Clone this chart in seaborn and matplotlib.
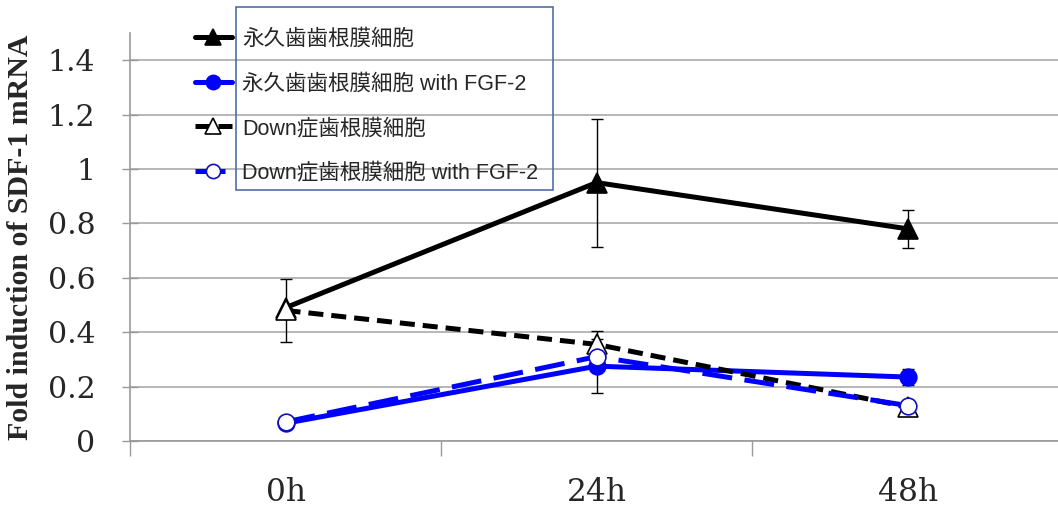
import matplotlib.pyplot as plt
from matplotlib.patches import Rectangle
import seaborn as sns
import pandas as pd

# data
times = ["0h", "24h", "48h"]
perm = [0.49, 0.95, 0.78]
perm_err = [0.0, 0.235, 0.07]
perm_fgf = [0.065, 0.275, 0.235]
perm_fgf_err = [0.02, 0.10, 0.03]
down = [0.48, 0.355, 0.125]
down_err = [0.115, 0.05, 0.01]
down_fgf = [0.07, 0.31, 0.13]
down_fgf_err = [0.01, 0.02, 0.01]

labels = ["永久歯歯根膜細胞", "永久歯歯根膜細胞 with FGF-2",
          "Down症歯根膜細胞", "Down症歯根膜細胞 with FGF-2"]

df = pd.DataFrame({"x": range(len(times)), "time": times})

sns.set_style("white")
plt.rcParams['font.family'] = ['Liberation Sans', 'Noto Sans CJK JP', 'DejaVu Sans']

fig = plt.figure(figsize=(10.58, 5.08), dpi=100)
ax = fig.add_axes([0.1229, 0.132, 0.882, 0.803])

blue = "#0000ff"
series = [
    (perm, perm_err, dict(color="black", linestyle="-", marker="^", markersize=14,
                          markerfacecolor="black", markeredgecolor="black"), 3),
    (perm_fgf, perm_fgf_err, dict(color=blue, linestyle="-", marker="o", markersize=12,
                                  markerfacecolor=blue, markeredgecolor=blue), 4),
    (down, down_err, dict(color="black", linestyle=(0, (3, 1.6)), marker="^", markersize=14,
                          markerfacecolor="white", markeredgecolor="black"), 5),
    (down_fgf, down_fgf_err, dict(color=blue, linestyle=(0, (6, 2.5)), marker="o", markersize=12,
                                  markerfacecolor="white", markeredgecolor="#1010c0"), 6),
]

for (vals, errs, style, z), lab in zip(series, labels):
    ax.errorbar(df["x"], vals, yerr=errs, fmt="none", ecolor="black",
                elinewidth=1, capsize=4, capthick=1, zorder=2)
    sns.lineplot(x=df["x"], y=vals, ax=ax, linewidth=3.6, label=lab,
                 zorder=z, markeredgewidth=1.2, **style)

ax.set_xlim(-0.5, 2.5)
ax.set_ylim(0, 1.5)
ax.set_yticks([0, 0.2, 0.4, 0.6, 0.8, 1.0, 1.2, 1.4])
ax.set_yticklabels(["0", "0.2", "0.4", "0.6", "0.8", "1", "1.2", "1.4"])
ax.set_xticks(df["x"])
ax.set_xticklabels(times)
ax.set_xticks([-0.5, 0.5, 1.5, 2.5], minor=True)
ax.grid(axis="y", color="#aaaaaa", linewidth=1.2)
ax.set_axisbelow(True)

for s in ["top", "right"]:
    ax.spines[s].set_visible(False)
for s in ["left", "bottom"]:
    ax.spines[s].set_color("#999999")
    ax.spines[s].set_linewidth(1.2)

ax.tick_params(axis="y", direction="inout", length=12, width=1, color="#999999",
               pad=19, left=True, labelsize=21.5)
ax.tick_params(axis="x", which="major", length=0, pad=26, labelsize=22.5)
ax.tick_params(axis="x", which="minor", direction="out", length=11, width=1,
               color="#999999", bottom=True)
for t in ax.get_xticklabels() + ax.get_yticklabels():
    t.set_family("DejaVu Serif")

ax.set_xlabel("")
ax.set_ylabel("Fold induction of SDF-1 mRNA", family="Liberation Serif",
              fontsize=21.5, fontweight="bold")
ax.yaxis.set_label_coords(-0.103, 0.5)

leg = ax.legend(loc="upper left", bbox_to_anchor=(195 / 1058, 1 - 29 / 508),
                bbox_transform=fig.transFigure, frameon=False, fontsize=15.5,
                borderpad=0, borderaxespad=0, handlelength=1.7, handletextpad=0.5,
                labelspacing=1.09, markerscale=0.85)
fig.patches.append(Rectangle((236 / 1058, 1 - 190 / 508), 317 / 1058, 183 / 508,
                             transform=fig.transFigure, fill=False,
                             edgecolor="#4f6fa8", linewidth=1.2, zorder=10))

plt.savefig("out.png", dpi=100)
